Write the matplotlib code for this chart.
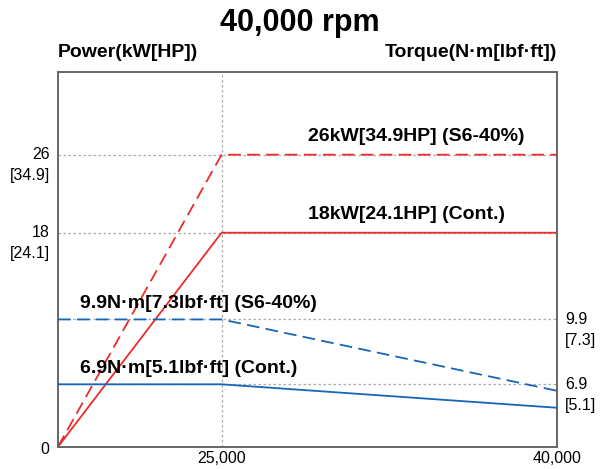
import numpy as np
import matplotlib
matplotlib.use('Agg')
import matplotlib.pyplot as plt
import matplotlib.transforms as mtransforms

plt.rcParams['font.family'] = ['Liberation Sans', 'DejaVu Sans']

# speed (rpm)
speed = [0, 25000, 40000]

# power curves (kW)
power_cont = [0, 18, 18]
power_s6 = [0, 26, 26]

# torque curves (N·m)
torque_cont = [6.9, 6.9, 4.31]
torque_s6 = [9.9, 9.9, 6.19]

power_ticks = [26, 18]
power_tick_hp = ['[34.9]', '[24.1]']
torque_ticks = [9.9, 6.9]
torque_tick_lbf = ['[7.3]', '[5.1]']
speed_ticks = [25000, 40000]
speed_tick_labels = ['25,000', '40,000']

red = '#ee2b2b'
blue = '#1565b8'
grid_c = '#aaaaaa'

# chart is drawn schematically: piecewise linear scales
x_knots = [0, 25000, 40000]
x_pos = [0, 0.328, 1.0]
p_knots = [0, 18, 26, 34.45]
p_pos = [0, 0.5716, 0.780, 1.0]
t_knots = [0, 6.9, 9.9, 21.3]
t_pos = [0, 0.1667, 0.340, 1.0]


def make_scale(knots, pos):
    fwd = lambda v: np.interp(v, knots, pos)
    inv = lambda v: np.interp(v, pos, knots)
    return fwd, inv


fig = plt.figure(figsize=(6.12, 4.69), dpi=100)
ax = fig.add_axes([0.0948, 0.0475, 0.8148, 0.7983])
ax.set_xscale('function', functions=make_scale(x_knots, x_pos))
ax.set_yscale('function', functions=make_scale(p_knots, p_pos))
ax.set_xlim(0, 40000)
ax.set_ylim(0, 34.45)

ax2 = ax.twinx()
ax2.set_yscale('function', functions=make_scale(t_knots, t_pos))
ax2.set_ylim(0, 21.3)

# grid lines
for v in power_ticks:
    ax.axhline(v, color=grid_c, lw=0.9, ls=(0, (2, 2)), zorder=1)
for v in torque_ticks:
    ax2.axhline(v, color=grid_c, lw=0.9, ls=(0, (2, 2)), zorder=1)
ax.axvline(25000, color=grid_c, lw=0.9, ls=(0, (2, 2)), zorder=1)

ax.plot(speed, power_cont, color=red, lw=1.3, zorder=3)
ax.plot(speed, power_s6, color=red, lw=1.3, ls=(0, (7, 3.5)), zorder=3)
ax2.plot(speed, torque_cont, color=blue, lw=1.3, zorder=3)
ax2.plot(speed, torque_s6, color=blue, lw=1.3, ls=(0, (7, 3.5)), zorder=3)

for a in (ax, ax2):
    a.set_xticks([])
    a.set_yticks([])
    for s in a.spines.values():
        s.set_color('#666666')
        s.set_linewidth(1.2)

fs = 11.5
lt = mtransforms.blended_transform_factory(ax.transAxes, ax.transData)
for v, hp in zip(power_ticks, power_tick_hp):
    ax.annotate(str(v), xy=(0, v), xycoords=lt, xytext=(-6, 0), textcoords='offset points',
                ha='right', va='center', fontsize=fs)
    ax.annotate(hp, xy=(0, v), xycoords=lt, xytext=(-6, -15), textcoords='offset points',
                ha='right', va='center', fontsize=fs)
ax.annotate('0', xy=(0, 0), xycoords=lt, xytext=(-6, -2), textcoords='offset points',
            ha='right', va='center', fontsize=fs)

rt = mtransforms.blended_transform_factory(ax2.transAxes, ax2.transData)
for v, lb in zip(torque_ticks, torque_tick_lbf):
    ax2.annotate(str(v), xy=(1, v), xycoords=rt, xytext=(6, 0), textcoords='offset points',
                 ha='left', va='center', fontsize=fs)
    ax2.annotate(lb, xy=(1, v), xycoords=rt, xytext=(6, -15), textcoords='offset points',
                 ha='left', va='center', fontsize=fs)

bt = mtransforms.blended_transform_factory(ax.transData, ax.transAxes)
for v, lab in zip(speed_ticks, speed_tick_labels):
    ax.annotate(lab, xy=(v, 0), xycoords=bt, xytext=(0, -3), textcoords='offset points',
                ha='center', va='top', fontsize=fs)

# curve labels
bfs = 14
ax.annotate('26kW[34.9HP] (S6-40%)', xy=(25000, 26), xytext=(62, 7), textcoords='offset points',
            fontsize=bfs, fontweight='bold', ha='left', va='bottom')
ax.annotate('18kW[24.1HP] (Cont.)', xy=(25000, 18), xytext=(62, 7), textcoords='offset points',
            fontsize=bfs, fontweight='bold', ha='left', va='bottom')
ax2.annotate('9.9N·m[7.3lbf·ft] (S6-40%)', xy=(0, 9.9), xytext=(16, 5), textcoords='offset points',
             fontsize=bfs, fontweight='bold', ha='left', va='bottom')
ax2.annotate('6.9N·m[5.1lbf·ft] (Cont.)', xy=(0, 6.9), xytext=(16, 5), textcoords='offset points',
             fontsize=bfs, fontweight='bold', ha='left', va='bottom')

fig.text(0.49, 0.951, '40,000 rpm', ha='center', va='center', fontsize=22, fontweight='bold')
fig.text(0.0948, 0.887, 'Power(kW[HP])', ha='left', va='center', fontsize=14, fontweight='bold')
fig.text(0.9096, 0.887, 'Torque(N·m[lbf·ft])', ha='right', va='center', fontsize=14, fontweight='bold')

fig.savefig('out.png', dpi=100)
